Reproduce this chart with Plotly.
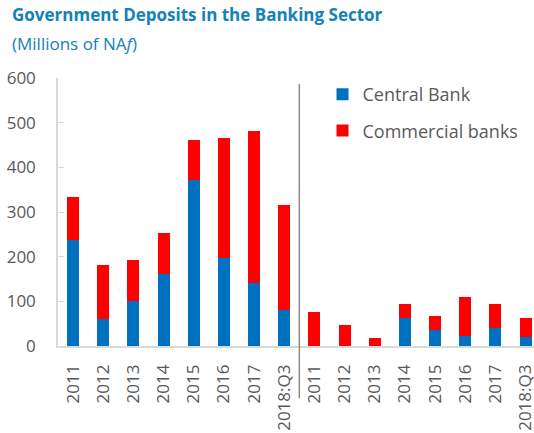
import plotly.graph_objects as go

years = ["2011", "2012", "2013", "2014", "2015", "2016", "2017", "2018:Q3"]
# left panel: total government deposits; right panel: second group
central_left = [238, 60, 100, 161, 371, 197, 141, 80]
commercial_left = [95, 121, 92, 93, 91, 269, 340, 236]
central_right = [0, 0, 0, 62, 35, 22, 41, 20]
commercial_right = [76, 46, 19, 33, 33, 88, 54, 42]

tick_labels = years + years
xpos = list(range(len(tick_labels)))
central = central_left + central_right
commercial = commercial_left + commercial_right

FONT = "Open Sans"
GREY = "#595959"
TITLE_C = "#1282b8"
AXIS_C = "#d9d9d9"

fig = go.Figure()
fig.add_bar(x=xpos, y=central, name="Central Bank", marker_color="#0070c0",
            marker_line_width=0, width=0.4, legendgroup="a")
fig.add_bar(x=xpos, y=commercial, name="Commercial banks", marker_color="#ff0000",
            marker_line_width=0, width=0.4, legendgroup="b")

fig.update_layout(
    width=534, height=433,
    margin=dict(l=58, r=0, t=78, b=86.5, autoexpand=False),
    barmode="stack",
    plot_bgcolor="white", paper_bgcolor="white",
    font=dict(family=FONT, color=GREY, size=17),
    showlegend=True,
    legend=dict(x=0.5557, y=1.0075, xanchor="left", yanchor="top",
                traceorder="grouped", tracegroupgap=10,
                font=dict(size=18, color=GREY, family=FONT),
                bgcolor="rgba(0,0,0,0)"),
    xaxis=dict(range=[-0.5, 15.28], tickmode="array", tickvals=xpos,
               ticktext=tick_labels, tickangle=-90, showgrid=False,
               showline=True, linecolor=AXIS_C, linewidth=1.5, ticks="",
               ticklabelstandoff=10, automargin=False,
               ticklabeloverflow="allow",
               tickfont=dict(size=17, color=GREY), zeroline=False),
    yaxis=dict(range=[0, 600], dtick=100, showgrid=False, showline=True,
               linecolor=AXIS_C, linewidth=1.5, ticks="inside",
               ticklen=6, tickcolor=AXIS_C, zeroline=False,
               ticklabelstandoff=17, automargin=False,
               tickfont=dict(size=17, color=GREY)),
)

fig.add_shape(type="line", xref="x", yref="paper", x0=7.5, x1=7.5,
              y0=-0.195, y1=0.978, line=dict(color="#8c8c8c", width=1.5))

fig.add_annotation(xref="paper", yref="paper", x=-0.1008, y=1.236,
                   xanchor="left", yanchor="middle", showarrow=False,
                   text="<b>Government Deposits in the Banking Sector</b>",
                   font=dict(family=FONT, size=17, color=TITLE_C))
fig.add_annotation(xref="paper", yref="paper", x=-0.1008, y=1.130,
                   xanchor="left", yanchor="middle", showarrow=False,
                   text="(Millions of NA<i>f</i>)",
                   font=dict(family=FONT, size=17, color=TITLE_C))

# remove the default page margin so the figure fills the window exactly
fig.write_html("out.html", config={"displayModeBar": False},
               post_script="document.body.style.margin='0';document.body.style.overflow='hidden';")
